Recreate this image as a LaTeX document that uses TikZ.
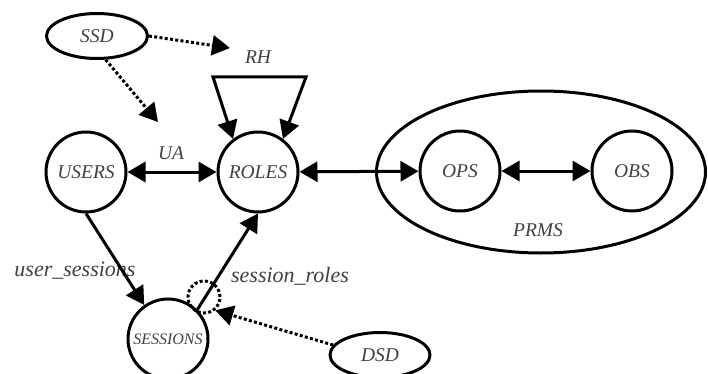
\documentclass[tikz,border=0pt]{standalone}
\usepackage{fontspec}
\setmainfont{Liberation Serif}
\usetikzlibrary{arrows.meta,shapes.geometric}
\begin{document}
\begin{tikzpicture}[x=1pt,y=-1pt,
  txt/.style={text=black!75,font=\fontsize{19.5}{22}\selectfont\itshape},
  ent/.style={circle,draw,line width=3pt,minimum size=80pt,inner sep=0pt,txt},
  ell/.style={ellipse,draw,line width=3pt,inner sep=0pt,txt},
  arr/.style={line width=3pt,-{Triangle[length=18pt,width=20pt]}},
  darr/.style={line width=3pt,{Triangle[length=18pt,width=20pt]}-{Triangle[length=18pt,width=20pt]}},
  dot/.style={line width=3pt,dash pattern=on 3pt off 2.3pt},
  lbl/.style={txt,inner sep=0pt},
  lbls/.style={lbl,font=\fontsize{22}{24}\selectfont\itshape}]
\useasboundingbox (0,0) rectangle (708,374);
\clip (0,0) rectangle (708,374);
\node[ell,minimum width=101pt,minimum height=45pt] (ssd) at (97,36) {SSD};
\node[ell,minimum width=100pt,minimum height=45pt] (dsd) at (380,355) {DSD};
\node[ell,minimum width=329pt,minimum height=162pt] (prms) at (541,172) {};
\node[ent] (users) at (86,172) {USERS};
\node[ent] (roles) at (258,172) {ROLES};
\node[ent] (ops) at (460,171) {OPS};
\node[ent] (obs) at (632,171) {OBS};
\node[ent,font=\fontsize{16}{18}\selectfont\itshape] (sessions) at (168,339) {SESSIONS};
\node[circle,draw,dot,minimum size=32pt,inner sep=0pt] (dsdc) at (204,297) {};
\node[lbl] (rh) at (258,57) {RH};
\node[lbl] (ua) at (171,153) {UA};
\node[lbls] (us) at (75,271) {user\_sessions};
\node[lbls] (sr) at (290,276) {session\_roles};
\node[lbl] (prmsl) at (538,230) {PRMS};
\coordinate (ssdA) at (230,48);
\coordinate (ssdB) at (158,122);
\coordinate (rhL) at (213,77);
\coordinate (rhR) at (306,77);
\draw[arr,dot] (ssd.east) -- (ssdA);
\draw[arr,dot] (ssd.-70) -- (ssdB);
\draw[darr,line join=miter] (roles.127) -- (rhL) -- (rhR) -- (roles.53);
\draw[darr] (users) -- (roles);
\draw[darr] (roles) -- (ops);
\draw[darr] (ops) -- (obs);
\draw[arr] (users.south) -- (sessions.125);
\draw[arr] (sessions.45) -- (roles.south);
\draw[arr,dot] (dsd.168) -- (dsdc.-50);
\end{tikzpicture}
\end{document}
